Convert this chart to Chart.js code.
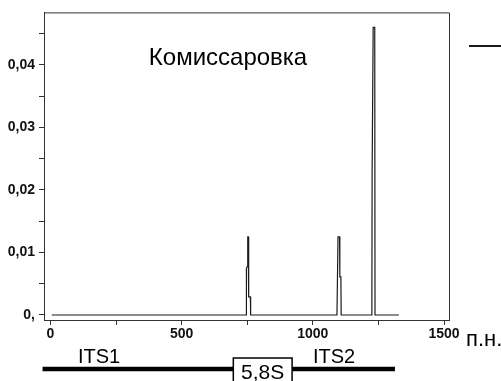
<!DOCTYPE html>
<html>
<head>
<meta charset="utf-8">
<script src="https://cdn.jsdelivr.net/npm/chart.js@4/dist/chart.umd.min.js"></script>
<style>
  html, body { margin: 0; padding: 0; background: #fff; }
  #wrap { position: relative; width: 501px; height: 381px; }
  canvas { display: block; }
</style>
</head>
<body>
<div id="wrap"><canvas id="c" width="501" height="381"></canvas></div>
<script>
// Fragment-length profile: position (bp) and relative signal
const basePairs = [5, 746, 747, 751, 752, 754, 755, 756, 762, 763,
                   1092, 1093, 1095, 1096, 1102, 1103, 1107, 1108,
                   1225, 1226, 1229, 1230, 1236, 1237, 1328];
const signal    = [0, 0, 0.0075, 0.0078, 0.0125, 0.0125, 0.0094, 0.0029, 0.0029, 0,
                   0, 0.0030, 0.0030, 0.0125, 0.0125, 0.0061, 0.0061, 0,
                   0, 0.0228, 0.0228, 0.0460, 0.0460, 0, 0];

// Axis ticks and their labels (blank = minor tick)
const xTickValues = [0, 250, 500, 750, 1000, 1250, 1500];
const xTickLabels = ['0', '', '500', '', '1000', '', '1500'];
const yTickValues = [0, 0.005, 0.01, 0.015, 0.02, 0.025, 0.03, 0.035, 0.04, 0.045];
const yTickLabels = ['0,', '', '0,01', '', '0,02', '', '0,03', '', '0,04', ''];

// rDNA region schematic under the axis (bp boundaries on the x scale)
const regionEdges = [-30, 697, 921, 1313];
const regionNames = ['ITS1', '5,8S', 'ITS2'];

const sampleName = 'Комиссаровка';
const unitLabel = 'п.н.';

const INK = '#1a1a1a';
const SANS = '"Liberation Sans", Arial, sans-serif';
const NARROW = '"Liberation Sans Narrow", "Arial Narrow", "Liberation Sans", sans-serif';

// Closes the plot frame and draws the annotations
const annotate = {
  id: 'annotate',
  afterDraw(chart) {
    const { ctx, chartArea: a, scales } = chart;
    const x = scales.x;
    ctx.save();
    ctx.strokeStyle = '#333';
    ctx.lineWidth = 1;
    ctx.beginPath();
    ctx.moveTo(a.left, a.top + 0.5);
    ctx.lineTo(a.right + 0.5, a.top + 0.5);
    ctx.lineTo(a.right + 0.5, a.bottom);
    ctx.stroke();

    // sample name inside the plot
    ctx.fillStyle = '#000';
    ctx.font = '24px ' + SANS;
    ctx.textAlign = 'center';
    ctx.textBaseline = 'alphabetic';
    ctx.fillText(sampleName, 228, 65);

    // series key line at the right edge
    ctx.strokeStyle = INK;
    ctx.lineWidth = 2;
    ctx.beginPath();
    ctx.moveTo(469, 46);
    ctx.lineTo(501, 46);
    ctx.stroke();

    // unit label
    ctx.textAlign = 'left';
    ctx.font = '22px ' + SANS;
    ctx.fillText(unitLabel, 466, 346);

    // ITS1 — 5,8S — ITS2 schematic
    const p = regionEdges.map(v => x.getPixelForValue(v));
    const midY = 369;
    ctx.strokeStyle = '#000';
    ctx.lineWidth = 4.5;
    ctx.beginPath();
    ctx.moveTo(p[0], midY); ctx.lineTo(p[1], midY);
    ctx.moveTo(p[2], midY); ctx.lineTo(p[3], midY);
    ctx.stroke();
    ctx.lineWidth = 1.5;
    ctx.strokeRect(p[1], 358, p[2] - p[1], 40);

    ctx.font = '20px ' + SANS;
    ctx.textAlign = 'left';
    ctx.fillText(regionNames[0], 78, 363);
    ctx.fillText(regionNames[2], 313, 363);
    ctx.font = '21px ' + SANS;
    ctx.textAlign = 'center';
    ctx.fillText(regionNames[1], (p[1] + p[2]) / 2, 379);
    ctx.restore();
  }
};

const tickFont = { family: NARROW, size: 14, weight: 'bold' };

new Chart(document.getElementById('c'), {
  type: 'line',
  data: {
    datasets: [{
      data: basePairs.map((bp, i) => ({ x: bp, y: signal[i] })),
      borderColor: INK,
      borderWidth: 1.2,
      pointRadius: 0,
      tension: 0,
      fill: false
    }]
  },
  options: {
    responsive: false,
    animation: false,
    devicePixelRatio: 1,
    layout: { padding: { top: 12, right: 52, left: 0, bottom: 0 } },
    plugins: { legend: { display: false }, tooltip: { enabled: false } },
    scales: {
      x: {
        type: 'linear',
        min: -24.5,
        max: 1519,
        afterBuildTicks: s => { s.ticks = xTickValues.map(v => ({ value: v })); },
        afterFit: s => { s.height = 61; },
        ticks: {
          autoSkip: false,
          maxRotation: 0,
          padding: 1,
          color: '#111',
          font: tickFont,
          callback: (v, i) => xTickLabels[i]
        },
        grid: { drawOnChartArea: false, drawTicks: true, tickLength: 5, color: '#333' },
        border: { display: true, color: '#333', width: 1 }
      },
      y: {
        type: 'linear',
        min: -0.0008,
        max: 0.0484,
        afterBuildTicks: s => { s.ticks = yTickValues.map(v => ({ value: v })); },
        afterFit: s => { s.width = 44; },
        ticks: {
          autoSkip: false,
          padding: 4,
          color: '#111',
          font: tickFont,
          callback: (v, i) => yTickLabels[i]
        },
        grid: { drawOnChartArea: false, drawTicks: true, tickLength: 5, color: '#333' },
        border: { display: true, color: '#333', width: 1 }
      }
    }
  },
  plugins: [annotate]
});
</script>
</body>
</html>
